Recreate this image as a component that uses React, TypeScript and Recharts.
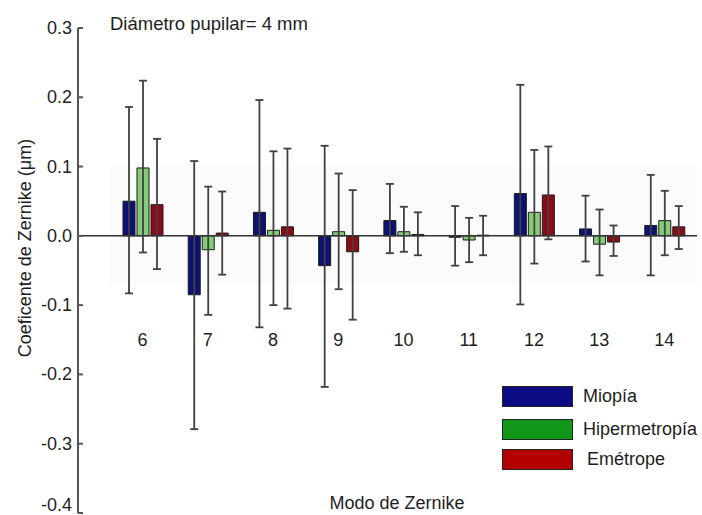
import React from 'react';
import { BarChart, Bar, XAxis, YAxis, ErrorBar, ReferenceLine, ReferenceArea, Legend } from 'recharts';

// ---- data ----
const modes = ['6', '7', '8', '9', '10', '11', '12', '13', '14'];

const miopia = [0.050, -0.085, 0.034, -0.043, 0.022, -0.002, 0.061, 0.010, 0.015];
const miopiaErr = [
  [0.133, 0.136], [0.194, 0.193], [0.166, 0.162], [0.175, 0.173], [0.047, 0.053],
  [0.041, 0.045], [0.160, 0.157], [0.047, 0.048], [0.072, 0.073],
];

const hipermetropia = [0.098, -0.020, 0.008, 0.006, 0.006, -0.006, 0.034, -0.012, 0.022];
const hipermetropiaErr = [
  [0.122, 0.126], [0.094, 0.091], [0.108, 0.114], [0.083, 0.084], [0.029, 0.036],
  [0.032, 0.032], [0.074, 0.090], [0.045, 0.050], [0.050, 0.043],
];

const emetrope = [0.045, 0.004, 0.013, -0.023, 0.002, 0.001, 0.059, -0.009, 0.013];
const emetropeErr = [
  [0.093, 0.095], [0.060, 0.060], [0.118, 0.113], [0.098, 0.089], [0.030, 0.032],
  [0.029, 0.028], [0.064, 0.070], [0.020, 0.024], [0.032, 0.030],
];

const yTicks = [-0.4, -0.3, -0.2, -0.1, 0.0, 0.1, 0.2, 0.3];
const seriesNames = ['Miopía', 'Hipermetropía', 'Emétrope'];

const data = modes.map((m, i) => ({
  mode: m,
  miopia: miopia[i],
  miopiaErr: miopiaErr[i],
  hipermetropia: hipermetropia[i],
  hipermetropiaErr: hipermetropiaErr[i],
  emetrope: emetrope[i],
  emetropeErr: emetropeErr[i],
}));

// ---- layout / style ----
const W = 702;
const H = 515;
const MARGIN = { top: 28, right: 5, bottom: 1, left: 0 };
const X_AXIS_H = 1;
const Y_DOMAIN: [number, number] = [-0.4, 0.3];
const PLOT_H = H - MARGIN.top - MARGIN.bottom - X_AXIS_H;
const MODE_LABEL_VALUE = -0.15;
const yOf = (v: number) => MARGIN.top + ((Y_DOMAIN[1] - v) / (Y_DOMAIN[1] - Y_DOMAIN[0])) * PLOT_H;

const FONT = 'Arial, "Liberation Sans", Helvetica, sans-serif';
const FS = 18;
const AXIS = '#555';
const ERR = '#404040';
const TEXT = '#1e1e1e';

const barColors = ['#0c1273', '#86cc78', '#8c0b16'];
const legendColors = ['#0a0a82', '#11961a', '#b30000'];

const renderModeTick = (props: any) => {
  const { x, payload } = props;
  return (
    <text x={x} y={yOf(MODE_LABEL_VALUE)} dy={6} textAnchor="middle" fontSize={FS} fill={TEXT} fontFamily={FONT}>
      {payload.value}
    </text>
  );
};

const renderValueTick = (props: any) => {
  const { x, y, payload } = props;
  const ty = Math.min(y, H - 10);
  return (
    <g>
      <text x={x} y={ty} dy={6} textAnchor="end" fontSize={FS} fill={TEXT} fontFamily={FONT}>
        {Number(payload.value).toFixed(1)}
      </text>
      <line x1={x + 6} x2={x + 11} y1={y} y2={y} stroke={AXIS} strokeWidth={2} />
    </g>
  );
};

const LegendContent = () => (
  <div style={{ fontFamily: FONT }}>
    {seriesNames.map((n, i) => (
      <div key={n} style={{ display: 'flex', alignItems: 'center', height: 21, marginBottom: i === 0 ? 12 : 9 }}>
        <div
          style={{
            width: 69,
            height: 19,
            background: legendColors[i],
            border: '1px solid #222',
          }}
        />
        <span style={{ marginLeft: i === 2 ? 14 : 10, fontSize: FS, lineHeight: '21px', color: TEXT, whiteSpace: 'nowrap' }}>{n}</span>
      </div>
    ))}
  </div>
);

export default function App() {
  return (
    <div style={{ position: 'absolute', left: 0, top: 0, width: W, height: H, background: '#fff', fontFamily: FONT }}>
      <BarChart width={W} height={H} data={data} margin={MARGIN} barSize={12} barGap={2}>
        <ReferenceArea y1={-0.07} y2={0.1} fill="#fbfbfb" fillOpacity={1} stroke="none" />
        <XAxis
          dataKey="mode"
          height={X_AXIS_H}
          axisLine={false}
          tickLine={false}
          padding={{ left: 32, right: 0 }}
          tick={renderModeTick}
          interval={0}
        />
        <YAxis
          width={78}
          domain={Y_DOMAIN}
          ticks={yTicks}
          type="number"
          allowDataOverflow
          tickSize={0}
          tickMargin={6}
          tick={renderValueTick}
          interval={0}
          axisLine={{ stroke: AXIS, strokeWidth: 2 }}
        />
        <ReferenceLine y={0} stroke="#333" strokeWidth={1.5} />
        <Bar dataKey="miopia" name={seriesNames[0]} fill={barColors[0]} stroke="#1a1a1a" strokeWidth={1} isAnimationActive={false}>
          <ErrorBar dataKey="miopiaErr" width={4} stroke={ERR} strokeWidth={1.8} direction="y" />
        </Bar>
        <Bar dataKey="hipermetropia" name={seriesNames[1]} fill={barColors[1]} stroke="#1a1a1a" strokeWidth={1} isAnimationActive={false}>
          <ErrorBar dataKey="hipermetropiaErr" width={4} stroke={ERR} strokeWidth={1.8} direction="y" />
        </Bar>
        <Bar dataKey="emetrope" name={seriesNames[2]} fill={barColors[2]} stroke="#1a1a1a" strokeWidth={1} isAnimationActive={false}>
          <ErrorBar dataKey="emetropeErr" width={4} stroke={ERR} strokeWidth={1.8} direction="y" />
        </Bar>
        <Legend
          layout="horizontal"
          verticalAlign="middle"
          align="center"
          content={<LegendContent />}
          wrapperStyle={{ position: 'absolute', left: 502, top: 386, width: 200, height: 'auto' }}
        />
      </BarChart>
      <div style={{ position: 'absolute', left: 110, top: 14, fontSize: 18.5, lineHeight: '20px', color: TEXT, whiteSpace: 'nowrap' }}>
        Diámetro pupilar= 4 mm
      </div>
      <div
        style={{
          position: 'absolute',
          left: 25,
          top: 248,
          transform: 'translate(-50%, -50%) rotate(-90deg)',
          fontSize: FS,
          color: TEXT,
          whiteSpace: 'nowrap',
        }}
      >
        Coeficente de Zernike (μm)
      </div>
      <div
        style={{
          position: 'absolute',
          left: 397,
          top: 494,
          transform: 'translateX(-50%)',
          fontSize: FS,
          lineHeight: '18px',
          color: TEXT,
          whiteSpace: 'nowrap',
        }}
      >
        Modo de Zernike
      </div>
    </div>
  );
}
